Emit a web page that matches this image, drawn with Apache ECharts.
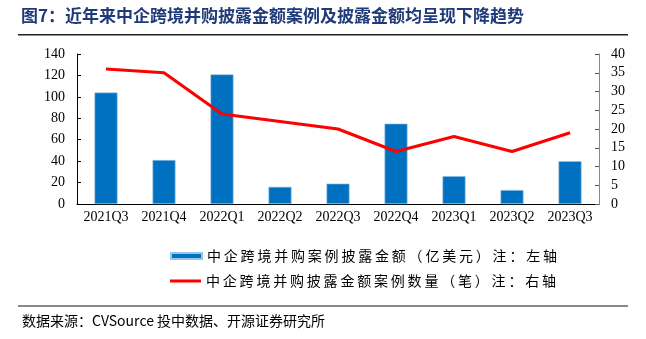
<!DOCTYPE html>
<html><head><meta charset="utf-8">
<script src="https://cdn.jsdelivr.net/npm/echarts@6/dist/echarts.min.js"></script>
<style>html,body{margin:0;padding:0;background:#fff}#c{width:646px;height:339px}</style>
</head><body><div id="c"></div>
<script>
const categories = ['2021Q3','2021Q4','2022Q1','2022Q2','2022Q3','2022Q4','2023Q1','2023Q2','2023Q3'];
const amountValues = [104, 41, 121, 16, 19, 75, 26, 13, 40];
const countValues = [36, 35, 24, 22, 20, 14, 18, 14, 19];
const leftTicks = {min: 0, max: 140, interval: 20};
const rightTicks = {min: 0, max: 40, interval: 5};
const barName = '中企跨境并购案例披露金额（亿美元）注：左轴';
const lineName = '中企跨境并购披露金额案例数量（笔）注：右轴';

const serif = '"Liberation Serif","Times New Roman",serif';
const cjk = '"Noto Sans CJK SC",sans-serif';
const spaced = s => s.split('').join('\u2009');
const chart = echarts.init(document.getElementById('c'));
chart.setOption({
  animation: false,
  grid: {left: 77, right: 47, top: 54, bottom: 135},
  legend: [
    {data: [barName], left: 165, top: 244, orient: 'vertical', itemWidth: 31, itemHeight: 6, icon: 'rect',
     formatter: spaced, textStyle: {fontFamily: cjk, fontSize: 14, color: '#000'}},
    {data: [lineName], left: 165, top: 269, orient: 'vertical', itemWidth: 31, itemHeight: 3, icon: 'rect',
     formatter: spaced, textStyle: {fontFamily: cjk, fontSize: 14, color: '#000'}}
  ],
  xAxis: {
    type: 'category', data: categories,
    axisLine: {lineStyle: {color: '#000', width: 1}},
    axisTick: {inside: true, length: 4, lineStyle: {color: '#555'}},
    axisLabel: {interval: 0, fontFamily: serif, fontSize: 14, color: '#000', margin: 6}
  },
  yAxis: [
    {type: 'value', min: leftTicks.min, max: leftTicks.max, interval: leftTicks.interval,
     axisLine: {show: true, lineStyle: {color: '#000'}},
     axisTick: {show: true, inside: true, length: 4, lineStyle: {color: '#000'}},
     splitLine: {show: false},
     axisLabel: {fontFamily: serif, fontSize: 14, color: '#000', margin: 12}},
    {type: 'value', min: rightTicks.min, max: rightTicks.max, interval: rightTicks.interval,
     axisLine: {show: true, lineStyle: {color: '#888'}},
     axisTick: {show: true, inside: true, length: 4, lineStyle: {color: '#555'}},
     splitLine: {show: false},
     axisLabel: {fontFamily: serif, fontSize: 14, color: '#000', margin: 12}}
  ],
  series: [
    {name: barName, type: 'bar', data: amountValues, yAxisIndex: 0, barWidth: 23,
     itemStyle: {color: '#0070C0', borderColor: '#9DC3E6', borderWidth: 0.6}},
    {name: lineName, type: 'line', data: countValues, yAxisIndex: 1, symbol: 'none',
     lineStyle: {color: '#FF0000', width: 3}, itemStyle: {color: '#FF0000'}}
  ],
  graphic: [
    {type: 'text', left: 21, top: 7, style: {text: '图7：近年来中企跨境并购披露金额案例及披露金额均呈现下降趋势',
      fontFamily: cjk, fontSize: 17, fontWeight: 'bold', fill: '#1F3A78'}},
    {type: 'rect', shape: {x: 18, y: 34, width: 610, height: 1.5}, style: {fill: '#222'}},
    {type: 'rect', shape: {x: 18, y: 305, width: 610, height: 2}, style: {fill: '#888'}},
    {type: 'text', left: 22, top: 314, style: {text: '数据来源：CVSource 投中数据、开源证券研究所',
      fontFamily: cjk, fontSize: 14, fill: '#000'}}
  ]
});
</script></body></html>
